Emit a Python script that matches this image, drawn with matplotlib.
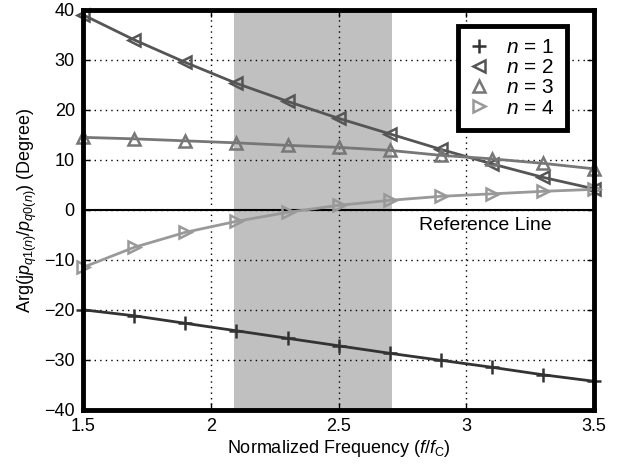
import matplotlib
matplotlib.use("Agg")
import matplotlib.pyplot as plt
from matplotlib.lines import Line2D

plt.rcParams['font.family'] = ['Liberation Sans', 'DejaVu Sans']
plt.rcParams['mathtext.fontset'] = 'custom'
plt.rcParams['mathtext.rm'] = 'Liberation Sans'
plt.rcParams['mathtext.it'] = 'Liberation Sans:italic'

freq = [1.5, 1.7, 1.9, 2.1, 2.3, 2.5, 2.7, 2.9, 3.1, 3.3, 3.5]
n1 = [-20.0, -21.2, -22.7, -24.2, -25.7, -27.2, -28.7, -30.1, -31.5, -33.0, -34.3]
n2 = [39.0, 34.0, 29.5, 25.3, 21.7, 18.3, 15.2, 12.1, 9.2, 6.5, 4.2]
n3 = [14.5, 14.2, 13.8, 13.4, 12.9, 12.5, 11.9, 10.9, 10.2, 9.3, 8.2]
n4 = [-11.5, -7.5, -4.5, -2.3, -0.5, 0.9, 1.9, 2.7, 3.2, 3.7, 4.1]
band = [2.09, 2.71]
labels = ['$n$ = 1', '$n$ = 2', '$n$ = 3', '$n$ = 4']
colors = ['#333333', '#555555', '#777777', '#999999']
markers = ['+', '<', '^', '>']

fig = plt.figure(figsize=(6.3, 4.71), dpi=100)
ax = fig.add_axes([0.132, 0.130, 0.811, 0.849])

ax.axvspan(band[0], band[1], color='#c0c0c0', zorder=0, lw=0)
ax.axhline(0, color='black', lw=1.5, zorder=1)

handles = []
for y, c, m, lab in zip([n1, n2, n3, n4], colors, markers, labels):
    ms = 10 if m == '+' else 8
    ax.plot(freq, y, color=c, lw=2, marker=m, ms=ms, mfc='none', mec=c, mew=1.8,
            zorder=3, clip_on=False)
    handles.append(Line2D([], [], ls='none', marker=m, ms=ms, mfc='none', mec=c,
                          mew=1.8, label=lab))

ax.text(3.076, -3.2, 'Reference Line', ha='center', va='center', fontsize=14)

ax.set_xlim(1.5, 3.5)
ax.set_ylim(-40, 40)
ax.set_xticks([1.5, 2, 2.5, 3, 3.5])
ax.set_xticklabels(['1.5', '2', '2.5', '3', '3.5'])
ax.set_yticks(range(-40, 41, 10))
ax.grid(True, color='black', ls=(0, (1, 3)), lw=1)
ax.set_axisbelow(False)
for s in ax.spines.values():
    s.set_linewidth(3.5)
    s.set_zorder(5)
ax.tick_params(direction='in', length=5, width=1, labelsize=13, pad=6,
               top=True, right=True)

ax.set_xlabel('Normalized Frequency ($f$/$f_{\\mathrm{C}}$)', fontsize=13, labelpad=2)
ax.set_ylabel('Arg($\\mathrm{j}p_{q1(n)}/p_{q0(n)}$) (Degree)', fontsize=13, labelpad=4)

leg = ax.legend(handles=handles, loc='upper right', bbox_to_anchor=(0.947, 0.96),
                borderaxespad=0, fontsize=15, frameon=True, fancybox=False,
                framealpha=1, handlelength=0.8, handletextpad=0.9,
                labelspacing=0.05, borderpad=0.6)
leg.get_frame().set_edgecolor('black')
leg.get_frame().set_linewidth(3.5)
leg.set_zorder(6)

fig.savefig('out.png', dpi=100)
